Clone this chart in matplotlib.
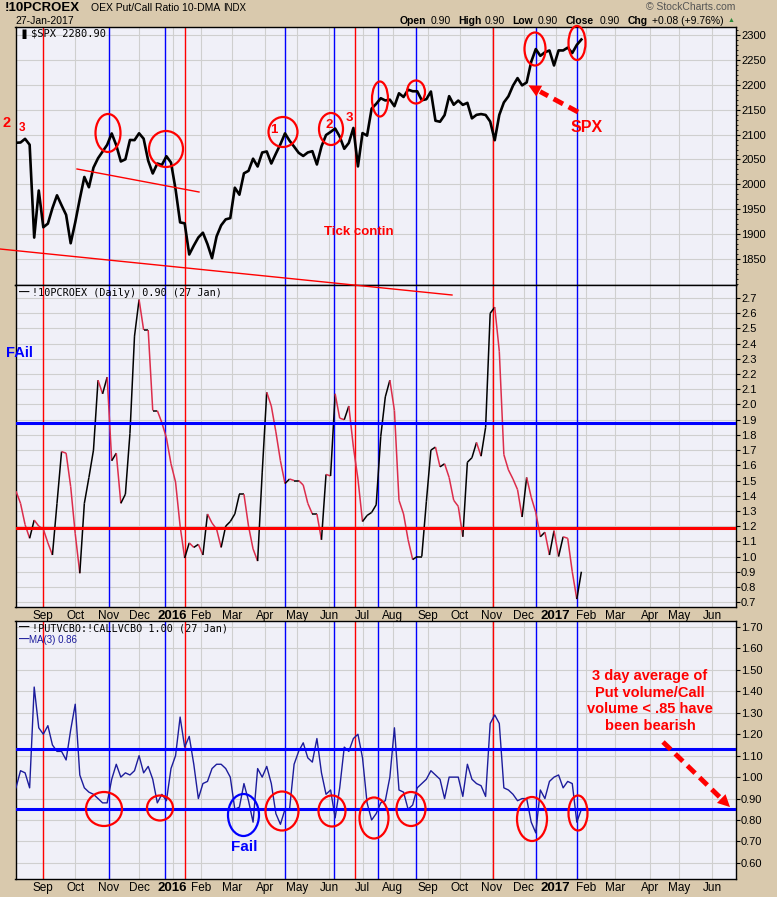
import numpy as np
import pandas as pd
import matplotlib
matplotlib.use("Agg")
import matplotlib.pyplot as plt
from matplotlib.collections import LineCollection
from matplotlib.patches import Ellipse, FancyArrowPatch
from matplotlib.lines import Line2D
from matplotlib.ticker import MultipleLocator, FormatStrFormatter

plt.rcParams['font.family'] = ['Liberation Sans', 'DejaVu Sans']

# NYSE holidays, so the x axis runs on trading days like the original
HOLIDAYS = ['2015-07-03', '2015-09-07', '2015-11-26', '2015-12-25', '2016-01-01',
            '2016-01-18', '2016-02-15', '2016-03-25', '2016-05-30', '2016-07-04',
            '2016-09-05', '2016-11-24', '2016-12-26', '2017-01-02', '2017-01-16',
            '2017-02-20', '2017-04-14', '2017-05-29', '2017-07-04']
LAST_DAY = '2017-01-27'
STEP = 3  # values read every 3rd trading day, ending on LAST_DAY

spx = [2083.6, 2084.1, 2091.5, 2079.6, 1893.2, 1987.7, 1913.9, 1921.2, 1952.3, 1978.1,
       1958.1, 1938.8, 1881.8, 1923.8, 1970.9, 2014.9, 1994.2, 2033.7, 2052.5, 2065.9,
       2079.4, 2102.3, 2078.6, 2046.0, 2050.4, 2089.2, 2088.9, 2102.6, 2091.7, 2047.6,
       2021.9, 2041.9, 2039.0, 2056.5, 2043.9, 1990.3, 1923.7, 1921.8, 1859.3, 1877.1,
       1893.4, 1903.0, 1880.1, 1851.9, 1895.6, 1917.8, 1929.8, 1932.2, 1993.4, 1979.3,
       2022.2, 2027.2, 2051.6, 2035.9, 2064.0, 2066.1, 2041.9, 2061.7, 2080.7, 2102.4,
       2087.8, 2075.8, 2063.4, 2057.1, 2064.1, 2066.7, 2040.0, 2076.1, 2099.1, 2105.3,
       2112.1, 2096.1, 2071.5, 2083.3, 2113.3, 2036.1, 2103.0, 2097.9, 2152.1, 2161.7,
       2173.0, 2168.5, 2170.1, 2157.0, 2182.9, 2175.5, 2190.2, 2187.0, 2186.9, 2169.0,
       2171.0, 2186.5, 2127.8, 2125.8, 2139.1, 2177.2, 2159.9, 2168.3, 2159.7, 2163.7,
       2132.6, 2139.6, 2141.2, 2139.4, 2126.2, 2088.7, 2139.6, 2164.5, 2176.9, 2198.2,
       2213.4, 2198.8, 2204.7, 2246.2, 2271.7, 2258.1, 2265.2, 2268.9, 2238.8, 2269.0,
       2268.9, 2274.6, 2263.7, 2280.1, 2290.9]

pcr10 = [1.43, 1.35, 1.21, 1.12, 1.24, 1.20, 1.18, 1.09, 1.01, 1.35,
         1.69, 1.68, 1.46, 1.15, 0.89, 1.35, 1.52, 1.70, 2.16, 2.07,
         2.18, 1.63, 1.68, 1.35, 1.41, 1.81, 2.45, 2.69, 2.49, 2.49,
         1.96, 1.96, 1.88, 1.78, 1.61, 1.49, 1.20, 0.99, 1.09, 1.06,
         1.08, 1.01, 1.28, 1.22, 1.18, 1.06, 1.20, 1.23, 1.28, 1.41,
         1.41, 1.20, 1.05, 0.97, 1.55, 2.08, 1.99, 1.82, 1.63, 1.48,
         1.51, 1.50, 1.50, 1.47, 1.35, 1.28, 1.28, 1.11, 1.54, 1.53,
         2.07, 1.91, 1.90, 1.99, 1.72, 1.51, 1.23, 1.27, 1.29, 1.34,
         1.79, 2.05, 2.16, 1.96, 1.37, 1.28, 1.11, 0.98, 1.00, 1.00,
         1.36, 1.70, 1.72, 1.59, 1.61, 1.52, 1.37, 1.33, 1.13, 1.62,
         1.65, 1.75, 1.66, 1.85, 2.60, 2.64, 2.35, 1.67, 1.57, 1.51,
         1.44, 1.26, 1.52, 1.39, 1.29, 1.13, 1.16, 1.01, 1.17, 1.00,
         1.13, 1.12, 0.90, 0.72, 0.90]

ma3 = [0.95, 1.03, 1.02, 0.95, 1.42, 1.23, 1.20, 1.24, 1.15, 1.12,
       1.12, 1.08, 1.22, 1.34, 1.01, 0.95, 0.93, 0.92, 0.90, 0.88,
       0.88, 0.99, 1.06, 1.00, 1.02, 1.01, 1.03, 1.10, 1.02, 1.05,
       0.99, 0.88, 0.92, 0.89, 1.04, 1.10, 1.28, 1.14, 1.19, 1.06,
       0.90, 0.97, 0.98, 1.04, 1.06, 1.06, 1.04, 1.00, 0.85, 0.86,
       0.97, 0.89, 0.79, 1.04, 1.00, 1.05, 0.97, 0.83, 0.78, 0.85,
       0.85, 1.06, 1.12, 1.16, 1.09, 1.07, 1.18, 1.02, 0.92, 0.94,
       0.81, 0.95, 1.14, 1.12, 1.18, 1.20, 1.09, 0.88, 0.80, 0.83,
       0.88, 0.89, 1.00, 1.23, 0.94, 0.93, 0.85, 0.87, 0.95, 0.97,
       0.99, 1.03, 1.01, 0.99, 0.90, 1.00, 1.00, 1.00, 0.91, 1.06,
       0.99, 0.97, 0.96, 0.91, 1.25, 1.29, 1.25, 0.95, 0.94, 0.92,
       0.89, 0.90, 0.90, 0.79, 0.74, 0.94, 0.90, 0.98, 1.00, 1.01,
       0.95, 0.98, 0.97, 0.79, 0.85]

blue_days = ['2015-11-02', '2015-12-24', '2016-04-20', '2016-06-06',
             '2016-07-18', '2016-08-22', '2016-12-13', '2017-01-24']
red_days = ['2015-09-01', '2016-01-14', '2016-06-24', '2016-11-02']

pcr_levels = [(1.88, 'blue'), (1.19, 'red')]
ma_levels = [1.13, 0.85]

# ---------------------------------------------------------------- layout
W, H = 777, 897
BG = '#d9c9ad'
FACE = '#f0f0f8'
GRID = '#cfcfcf'
RED = '#ff0000'
BLUE = '#0000ff'


def fx(x):
    return x / W


def fy(y):
    return 1 - y / H


cal = pd.bdate_range('2015-08-03', '2017-06-30', freq='C', holidays=HOLIDAYS)
origin = cal.get_loc(pd.Timestamp('2015-09-01'))


def tpos(d):
    return cal.get_loc(pd.Timestamp(d)) - origin


end = tpos(LAST_DAY)
xs = end - STEP * np.arange(len(spx))[::-1]
xlim = (-18.3, 455.4)

fig = plt.figure(figsize=(W / 100, H / 100), dpi=100, facecolor=BG)
left, width = fx(15.5), 720 / W
ax1 = fig.add_axes([left, fy(285), width, 258 / H])
ax2 = fig.add_axes([left, fy(607), width, 322 / H])
ax3 = fig.add_axes([left, fy(879), width, 258 / H])

# month ticks on first trading day
ser = pd.Series(np.arange(len(cal)) - origin, index=cal)
firsts = ser.groupby([cal.year, cal.month]).first()
mticks, mlabels = [], []
for (yr, mo), p in firsts.items():
    if xlim[0] < p < xlim[1]:
        mticks.append(p)
        mlabels.append(str(yr) if mo == 1 else pd.Timestamp(yr, mo, 1).strftime('%b'))

for ax in (ax1, ax2, ax3):
    ax.set_facecolor(FACE)
    ax.set_xlim(*xlim)
    ax.set_xticks(mticks)
    ax.grid(True, color=GRID, lw=0.8)
    ax.set_axisbelow(True)
    for s in ax.spines.values():
        s.set_color('black')
        s.set_linewidth(1)
    ax.yaxis.tick_right()
    ax.tick_params(axis='y', which='major', direction='out', length=3, pad=1,
                   labelsize=8, colors='black')
    ax.tick_params(axis='x', length=0, pad=2, labelsize=8.5)
    for d in blue_days:
        ax.axvline(tpos(d), color=BLUE, lw=1, zorder=2)
    for d in red_days:
        ax.axvline(tpos(d), color=RED, lw=1, zorder=2)

for ax in (ax2, ax3):
    ax.set_xticklabels(mlabels)
    for t in ax.get_xticklabels():
        if t.get_text().isdigit():
            t.set_fontweight('bold')
            t.set_fontsize(9.5)
ax1.set_xticklabels([])

# panel 1: SPX
ax1.plot(xs, spx, color='black', lw=1.9, zorder=3)
ax1.set_ylim(1798, 2316)
ax1.set_yticks(np.arange(1850, 2301, 50))
ax1.yaxis.set_minor_locator(MultipleLocator(10))
ax1.tick_params(axis='y', which='minor', direction='out', length=1.5, right=True, left=False)

# panel 2: 10-DMA put/call, black rising, red falling
pts = np.column_stack([xs, pcr10])
segs = np.stack([pts[:-1], pts[1:]], axis=1)
cols = np.where(np.diff(pcr10) >= 0, 'black', '#dc2d4b')
ax2.add_collection(LineCollection(segs, colors=cols, linewidths=1.1, zorder=3))
ax2.set_ylim(0.668, 2.786)
ax2.yaxis.set_major_locator(MultipleLocator(0.1))
ax2.yaxis.set_major_formatter(FormatStrFormatter('%.1f'))
for lv, c in pcr_levels:
    ax2.axhline(lv, color=BLUE if c == 'blue' else RED, lw=2.2, zorder=4)

# panel 3: MA(3) of put/call volume
ax3.plot(xs, ma3, color='#1c1c9c', lw=1.0, zorder=3)
ax3.set_ylim(0.525, 1.728)
ax3.yaxis.set_major_locator(MultipleLocator(0.1))
ax3.yaxis.set_major_formatter(FormatStrFormatter('%.2f'))
for lv in ma_levels:
    ax3.axhline(lv, color=BLUE, lw=2.2, zorder=4)

# ---------------------------------------------------------------- header
fig.text(fx(5), fy(8), '!10PCROEX', fontsize=9.5, fontweight='bold', va='center')
fig.text(fx(91), fy(8), 'OEX Put/Call Ratio 10-DMA', fontsize=7.5, va='center')
fig.text(fx(223), fy(8), 'INDX', fontsize=7, va='center')
fig.text(fx(15), fy(21.5), '27-Jan-2017', fontsize=7.5, va='center')
fig.text(fx(735), fy(7), '\u00a9 StockCharts.com', fontsize=7.5, color='#555555',
         va='center', ha='right')
hdr = [(400, 'Open', True), (431, '0.90', False), (458, 'High', True), (485, '0.90', False),
       (512, 'Low', True), (538, '0.90', False), (566, 'Close', True), (600, '0.90', False),
       (628, 'Chg', True), (652, '+0.08 (+9.76%)', False)]
for x, s, b in hdr:
    fig.text(fx(x), fy(21), s, fontsize=7.5, va='center',
             fontweight='bold' if b else 'normal')
fig.text(fx(731), fy(21), '\u25b2', fontsize=5, color='#2e8b3a', va='center', ha='center')

mono = ['DejaVu Sans Mono']
fig.text(fx(19), fy(34), '\u2590\u258c', fontsize=6, va='center', family=mono)
fig.text(fx(31), fy(34), '\\$SPX 2280.90', fontsize=7.5, va='center', family=mono)
fig.text(fx(19), fy(293), '\u2014', fontsize=7.5, va='center', fontweight='bold')
fig.text(fx(32), fy(293), '!10PCROEX (Daily) 0.90 (27 Jan)', fontsize=7.3, va='center',
         family=mono)
fig.text(fx(19), fy(628), '\u2014', fontsize=7.5, va='center', fontweight='bold')
fig.text(fx(32), fy(628), '!PUTVCBO:!CALLVCBO 1.00 (27 Jan)', fontsize=7.3, va='center',
         family=mono)
fig.text(fx(19), fy(640), '\u2014', fontsize=7.5, va='center', color='#1c1c9c',
         fontweight='bold')
fig.text(fx(29), fy(640), 'MA(3) 0.86', fontsize=7, va='center', color='#1c1c9c')

# ---------------------------------------------------------------- annotations
def ellipse(cx, cy, w, h, color=RED):
    fig.add_artist(Ellipse((fx(cx), fy(cy)), w / W, h / H, fill=False,
                           edgecolor=color, lw=1.6, transform=fig.transFigure, zorder=10))


def redline(x0, y0, x1, y1):
    fig.add_artist(Line2D([fx(x0), fx(x1)], [fy(y0), fy(y1)], color=RED, lw=1,
                          transform=fig.transFigure, zorder=10))


def dash_arrow(x0, y0, x1, y1):
    v = np.array([x1 - x0, y1 - y0], float)
    u = v / np.hypot(*v)
    hx, hy = x1 - 16 * u[0], y1 - 16 * u[1]
    fig.add_artist(Line2D([fx(x0), fx(hx)], [fy(y0), fy(hy)], color=RED, lw=3.5,
                          ls=(0, (2.2, 1.3)), transform=fig.transFigure, zorder=10))
    fig.add_artist(FancyArrowPatch((fx(hx + 4 * u[0]), fy(hy + 4 * u[1])), (fx(x1), fy(y1)),
                                   arrowstyle='-|>', mutation_scale=22, color=RED, lw=0,
                                   transform=fig.transFigure, zorder=10))


def label(x, y, s, size, color=RED, **kw):
    fig.text(fx(x), fy(y), s, fontsize=size, color=color, fontweight='bold',
             va='center', zorder=11, **kw)


# panel 1
for cx, cy, w, h in [(108, 133, 25, 38), (166, 149, 34, 36), (283, 132, 29, 30),
                     (331, 129, 24, 32), (380, 99, 16, 35), (416, 92, 18, 23),
                     (535, 49, 21, 33), (577, 43, 17, 34)]:
    ellipse(cx, cy, w, h)
redline(77, 169, 199, 192)
redline(0, 249, 452, 295)
label(7, 123, '2', 10.5, ha='center')
label(22, 128, '3', 8.5, ha='center')
label(274, 130, '1', 9.5, ha='center')
label(329, 125, '2', 9.5, ha='center')
label(349, 118, '3', 9.5, ha='center')
label(587, 127, 'SPX', 11.5, ha='center')
label(359, 232, 'Tick contin', 9.5, ha='center')
dash_arrow(578, 112, 526, 84)

# panel 2
label(19, 353, 'FAil', 10.5, color=BLUE, ha='center')

# panel 3
for cx, cy, w, h in [(104, 809, 36, 34), (160, 808, 26, 25), (282, 811, 33, 39),
                     (332, 811, 27, 31), (374, 818, 29, 41), (411, 809, 29, 34),
                     (532, 819, 30, 44), (578, 813, 19, 35)]:
    ellipse(cx, cy, w, h)
ellipse(243.5, 815, 31, 42, color=BLUE)
label(244, 847, 'Fail', 11, color=BLUE, ha='center')
fig.text(fx(650), fy(701), '3 day average of\nPut volume/Call\nvolume < .85 have\nbeen bearish',
         fontsize=10.5, color=RED, fontweight='bold', ha='center', va='center',
         linespacing=1.25, zorder=11)
dash_arrow(663, 742, 732, 809)

fig.savefig('out.png', dpi=100, facecolor=BG)
